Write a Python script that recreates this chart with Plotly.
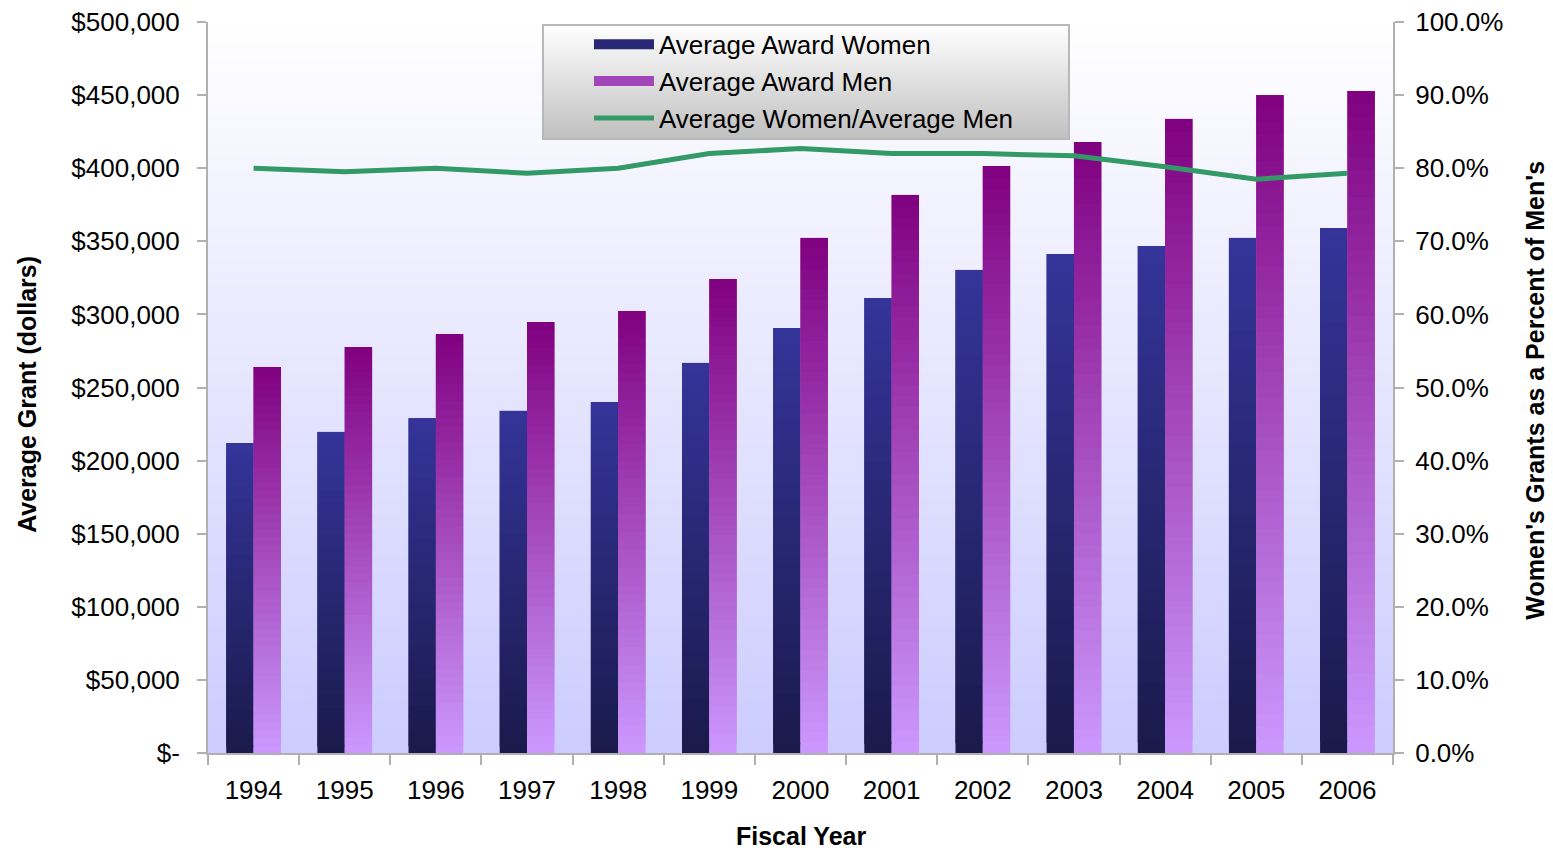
import base64, struct, zlib
import plotly.graph_objects as go

# ---------------- data ----------------
years = ["1994", "1995", "1996", "1997", "1998", "1999", "2000",
         "2001", "2002", "2003", "2004", "2005", "2006"]
award_women = [212000, 219600, 229000, 234000, 240000, 266800, 290700,
               311200, 330400, 341300, 346800, 352300, 359100]
award_men = [264000, 277700, 286600, 294800, 302300, 324200, 352300,
             381700, 401500, 417900, 433700, 450000, 452800]
ratio = [0.800, 0.795, 0.800, 0.793, 0.800, 0.820, 0.827,
         0.820, 0.820, 0.817, 0.802, 0.785, 0.793]
left_tickvals = [0, 50000, 100000, 150000, 200000, 250000, 300000,
                 350000, 400000, 450000, 500000]
left_ticktext = ["$-" if v == 0 else f"${v:,.0f}" for v in left_tickvals]

FONT = "Liberation Sans, Arial, sans-serif"


def hex2rgb(h):
    h = h.lstrip("#")
    return tuple(int(h[i:i + 2], 16) for i in (0, 2, 4))


def lerp(c0, c1, t):
    a, b = hex2rgb(c0), hex2rgb(c1)
    return "rgb(%d,%d,%d)" % tuple(round(a[i] + (b[i] - a[i]) * t) for i in range(3))


def gradient_png(top, bottom, h=256):
    a, b = hex2rgb(top), hex2rgb(bottom)
    raw = b""
    for y in range(h):
        t = y / (h - 1)
        px = bytes(round(a[i] + (b[i] - a[i]) * t) for i in range(3))
        raw += b"\x00" + px * 2
    def chunk(tag, data):
        return struct.pack(">I", len(data)) + tag + data + struct.pack(">I", zlib.crc32(tag + data) & 0xffffffff)
    png = b"\x89PNG\r\n\x1a\n" + chunk(b"IHDR", struct.pack(">IIBBBBB", 2, h, 8, 2, 0, 0, 0)) \
        + chunk(b"IDAT", zlib.compress(raw)) + chunk(b"IEND", b"")
    return "data:image/png;base64," + base64.b64encode(png).decode()


fig = go.Figure()

N = 50
series = [
    ("Average Award Women", award_women, "#1a1a4c", "#34349a", -0.30, 1),
    ("Average Award Men", award_men, "#cc99ff", "#800080", 0.0, 2),
]
for name, vals, c_bot, c_top, off, rank in series:
    for k in range(N):
        col = lerp(c_bot, c_top, (k + 0.5) / N)
        fig.add_trace(go.Bar(
            x=years, y=[v / N * 2 if k < N - 1 else v / N for v in vals],
            base=[v * k / N for v in vals],
            offset=off, width=0.30,
            marker=dict(color=col, line=dict(width=0)),
            name=name, showlegend=False, hoverinfo="skip"))
    # legend entry (wide gradient-like swatch)
    fig.add_trace(go.Scatter(
        x=[years[0]], y=[None], mode="lines",
        line=dict(color=lerp(c_bot, c_top, 0.55), width=14),
        name=name, legendrank=rank, hoverinfo="skip"))

fig.add_trace(go.Scatter(
    x=years, y=ratio, yaxis="y2", mode="lines",
    line=dict(color="#339966", width=5),
    name="Average Women/Average Men", legendrank=3))

axis_col = "#b0b0b0"
fig.update_layout(
    width=1545, height=843,
    margin=dict(l=200, r=160, t=14, b=98, autoexpand=False),
    paper_bgcolor="white", plot_bgcolor="rgba(0,0,0,0)",
    barmode="overlay",
    font=dict(family=FONT, size=26, color="black"),
    showlegend=True,
    legend=dict(x=0.3215, y=1.0015, xanchor="left", yanchor="top",
                bgcolor="rgba(0,0,0,0)", borderwidth=0,
                font=dict(size=26, family=FONT), itemwidth=60,
                tracegroupgap=0),
    xaxis=dict(type="category", range=[-0.5, 12.5], showgrid=False,
               showline=True, linecolor=axis_col, linewidth=2,
               ticks="outside", ticklen=10, tickwidth=2, tickcolor=axis_col,
               tickson="boundaries", ticklabelstandoff=13,
               tickfont=dict(size=26), automargin=False),
    yaxis=dict(range=[0, 500000], tickvals=left_tickvals, ticktext=left_ticktext,
               showgrid=False, zeroline=False, showline=True, linecolor=axis_col,
               linewidth=2, ticks="outside", ticklen=9, tickwidth=2,
               tickcolor=axis_col, ticklabelstandoff=12, tickfont=dict(size=26),
               ticklabeloverflow="allow", automargin=False),
    yaxis2=dict(range=[0, 1], dtick=0.1, tickformat=".1%", overlaying="y",
                side="right", showgrid=False, zeroline=False, showline=True,
                linecolor=axis_col, linewidth=2, ticks="outside", ticklen=9,
                tickwidth=2, tickcolor=axis_col, ticklabelstandoff=6,
                tickfont=dict(size=26), ticklabeloverflow="allow",
                automargin=False),
    images=[
        dict(source=gradient_png("#ffffff", "#ccccff"), xref="paper", yref="paper",
             x=0, y=1, sizex=1, sizey=1, sizing="stretch", layer="below",
             xanchor="left", yanchor="top"),
        dict(source=gradient_png("#ffffff", "#c0c0c0"), xref="paper", yref="paper",
             x=0.2827, y=0.9959, sizex=0.4439, sizey=0.1559, sizing="stretch",
             layer="below", xanchor="left", yanchor="top"),
    ],
    shapes=[dict(type="rect", xref="paper", yref="paper", x0=0.2827, x1=0.7266,
                 y0=0.84, y1=0.9959, line=dict(color="#b8b8b8", width=2),
                 layer="below")],
    annotations=[
        dict(text="<b>Average Grant (dollars)</b>", xref="paper", yref="paper",
             x=-0.1527, y=0.49, xanchor="center", yanchor="middle",
             textangle=-90, showarrow=False, font=dict(size=25, family=FONT)),
        dict(text="<b>Women's Grants as a Percent of Men's</b>", xref="paper",
             yref="paper", x=1.1198, y=0.497, xanchor="center", yanchor="middle",
             textangle=-90, showarrow=False, font=dict(size=25, family=FONT)),
        dict(text="<b>Fiscal Year</b>", xref="paper", yref="paper",
             x=0.5, y=-0.1135, xanchor="center", yanchor="middle",
             showarrow=False, font=dict(size=25, family=FONT)),
    ],
)

fig.write_html("out.html")
